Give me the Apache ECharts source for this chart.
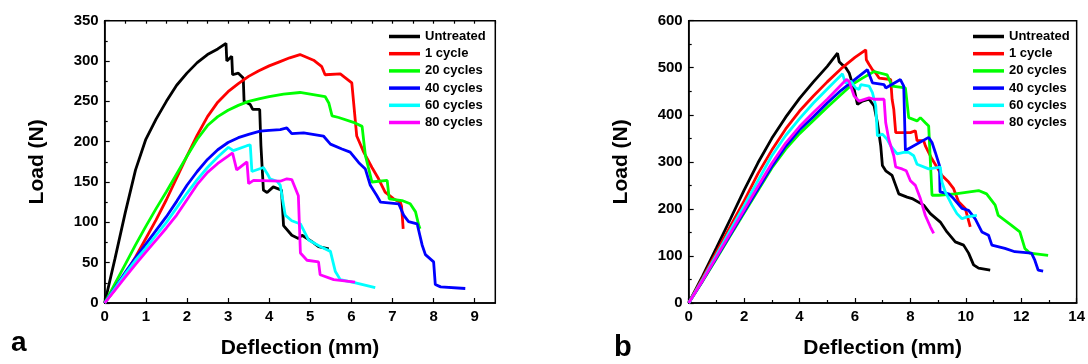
<!DOCTYPE html>
<html>
<head>
<meta charset="utf-8">
<script src="https://cdn.jsdelivr.net/npm/echarts@6/dist/echarts.min.js"></script>
<style>
html,body{margin:0;padding:0;background:#fff;}
#c{width:1088px;height:364px;}
</style>
</head>
<body>
<div id="c"></div>
<script>
// ---------- Data (Deflection mm, Load N) ----------
var seriesNames = ['Untreated', '1 cycle', '20 cycles', '40 cycles', '60 cycles', '80 cycles'];

// Panel a
var aUntreated = [[0,0],[0.25,55],[0.5,112],[0.75,165],[1.0,203],[1.25,228],[1.5,250],[1.75,270],[2.0,285],[2.25,298],[2.5,308],[2.75,315],[2.95,322],[2.97,300],[3.09,306],[3.11,283],[3.25,285],[3.37,279],[3.39,250],[3.54,246],[3.6,240],[3.77,240],[3.8,195],[3.86,140],[3.95,137],[4.1,144],[4.3,140],[4.35,96],[4.55,84],[4.71,80],[4.8,84],[5.04,76],[5.2,70],[5.45,67]];
var aCycle1 = [[0,0],[0.25,17],[0.5,36],[0.75,57],[1.0,80],[1.25,103],[1.5,128],[1.75,155],[2.0,182],[2.25,208],[2.5,231],[2.75,249],[3.0,262],[3.25,272],[3.5,281],[3.75,288],[4.0,294],[4.25,299],[4.5,304],[4.75,308],[5.08,301],[5.28,293],[5.36,283],[5.73,284],[6.01,273],[6.05,271],[6.13,207],[6.3,187],[6.5,168],[6.66,154],[6.82,137.5],[7.03,129],[7.19,125],[7.22,120],[7.26,92]];
var aCycle20 = [[0,0],[0.25,24],[0.5,48],[0.75,72],[1.0,95],[1.25,117],[1.5,138],[1.75,160],[2.0,182],[2.25,203],[2.5,220],[2.75,231],[3.0,239],[3.25,245],[3.5,250],[3.75,253],[4.0,256],[4.35,259],[4.75,261],[5.0,259],[5.36,256],[5.45,248],[5.53,232],[5.69,230],[6.05,224],[6.26,219],[6.34,183],[6.5,150],[6.87,152],[6.92,129],[7.23,127],[7.43,123],[7.56,113],[7.64,96],[7.67,92]];
var aCycle40 = [[0,0],[0.25,19],[0.5,38],[0.75,56],[1.0,73],[1.25,90],[1.5,107],[1.75,126],[2.0,146],[2.25,163],[2.5,178],[2.75,190],[3.0,199],[3.25,205],[3.5,209],[3.78,213],[4.0,214],[4.27,215],[4.43,217],[4.55,210],[4.84,211],[5.32,207],[5.49,197],[5.77,191],[5.97,187],[6.18,174],[6.34,166],[6.46,146],[6.62,133],[6.71,125],[7.15,123],[7.27,109],[7.39,101],[7.6,98],[7.72,72],[7.8,60],[8.0,51],[8.04,23],[8.17,20],[8.77,18]];
var aCycle60 = [[0,0],[0.25,18],[0.5,36],[0.75,53],[1.0,68],[1.25,84],[1.5,100],[1.75,118],[2.0,136],[2.25,153],[2.5,168],[2.75,181],[3.01,193],[3.13,189],[3.46,195],[3.54,196],[3.58,163],[3.86,168],[3.98,158],[4.02,154],[4.19,151],[4.27,146],[4.39,109],[4.55,102],[4.76,98],[4.96,78],[5.24,70],[5.49,64],[5.61,39],[5.73,29],[6.1,25],[6.58,19]];
var aCycle80 = [[0,0],[0.25,16],[0.5,32],[0.75,48],[1.0,63],[1.25,78],[1.5,93],[1.75,109],[2.0,128],[2.25,147],[2.5,162],[2.75,173],[3.0,182],[3.11,186],[3.21,165],[3.46,175],[3.5,148],[3.62,152],[4.27,151],[4.43,154],[4.55,153],[4.71,133],[4.76,62],[4.92,53],[5.2,51],[5.24,35],[5.57,29],[6.09,26]];

// Panel b
var bUntreated = [[0,0],[0.5,57],[1.0,117],[1.5,178],[2.0,240],[2.5,298],[3.0,350],[3.5,395],[4.0,435],[4.5,470],[5.0,503],[5.37,531],[5.43,513],[5.55,506],[5.67,500],[5.79,489],[5.97,454],[6.09,422],[6.27,429],[6.51,433],[6.69,419],[6.81,383],[6.93,334],[6.99,292],[7.11,281],[7.34,271],[7.47,250],[7.58,232],[7.88,225],[8.06,222],[8.48,208],[8.72,190],[9.08,172],[9.32,151],[9.62,130],[9.92,123],[10.1,106],[10.28,81],[10.46,74],[10.88,70]];
var bCycle1 = [[0,0],[0.5,53],[1.0,108],[1.5,163],[2.0,217],[2.5,275],[3.0,325],[3.5,370],[4.0,408],[4.5,440],[5.0,470],[5.5,498],[6.0,522],[6.39,538],[6.41,517],[6.51,507],[6.63,496],[6.75,489],[6.87,478],[7.29,475],[7.34,433],[7.4,412],[7.47,362],[7.52,359],[8.0,362],[8.18,366],[8.24,345],[8.48,345],[8.54,334],[8.78,306],[9.14,271],[9.38,257],[9.56,243],[9.74,215],[9.98,201],[10.16,162]];
var bCycle20 = [[0,0],[0.5,46],[1.0,94],[1.5,143],[2.0,191],[2.5,239],[3.0,287],[3.5,327],[4.0,360],[4.5,388],[5.0,416],[5.5,443],[5.91,465],[6.27,478],[6.69,492],[7.16,485],[7.34,461],[7.82,457],[7.94,394],[8.24,387],[8.36,394],[8.54,383],[8.66,376],[8.78,229],[9.02,229],[9.62,232],[10.46,239],[10.75,232],[11.06,208],[11.17,186],[11.65,165],[11.95,151],[12.13,116],[12.31,106],[12.97,101]];
var bCycle40 = [[0,0],[0.5,47],[1.0,96],[1.5,145],[2.0,194],[2.5,242],[3.0,290],[3.5,333],[4.0,368],[4.5,396],[5.0,425],[5.5,452],[6.15,482],[6.45,496],[6.51,496],[6.63,468],[7.05,464],[7.11,457],[7.64,475],[7.76,461],[7.82,324],[8.66,352],[8.78,341],[8.9,320],[9.05,292],[9.07,236],[9.38,232],[9.56,222],[9.86,201],[10.1,197],[10.34,179],[10.58,151],[10.82,144],[10.94,123],[11.41,116],[11.77,109],[12.37,106],[12.49,91],[12.61,70],[12.79,68]];
var bCycle60 = [[0,0],[0.5,50],[1.0,102],[1.5,155],[2.0,207],[2.5,260],[3.0,313],[3.5,356],[4.0,392],[4.5,425],[5.0,455],[5.55,487],[5.65,468],[5.85,471],[6.03,457],[6.15,454],[6.21,464],[6.51,461],[6.63,447],[6.75,419],[6.81,355],[6.99,359],[7.16,348],[7.29,334],[7.52,317],[7.76,320],[7.94,320],[8.12,313],[8.24,295],[8.66,285],[9.08,289],[9.14,257],[9.26,236],[9.5,208],[9.68,190],[9.86,179],[10.04,183],[10.4,186]];
var bCycle80 = [[0,0],[0.5,48],[1.0,98],[1.5,148],[2.0,198],[2.5,248],[3.0,297],[3.5,340],[4.0,375],[4.5,405],[5.0,433],[5.69,475],[5.79,471],[5.97,440],[6.15,429],[6.51,436],[6.69,433],[7.05,433],[7.11,383],[7.22,348],[7.4,313],[7.47,289],[7.7,285],[7.85,281],[8.0,260],[8.18,250],[8.36,222],[8.54,186],[8.72,162],[8.84,148]];

var colors = ['#000000', '#ff0000', '#00ff00', '#0000ff', '#00ffff', '#ff00ff'];
var panelA = [aUntreated, aCycle1, aCycle20, aCycle40, aCycle60, aCycle80];
var panelB = [bUntreated, bCycle1, bCycle20, bCycle40, bCycle60, bCycle80];

// ---------- Chart ----------
var FONT = 'Liberation Sans, Arial, sans-serif';
var chart = echarts.init(document.getElementById('c'), null, {renderer: 'canvas'});

function tickLabel() {
  return {color: '#000', fontWeight: 'bold', fontSize: 15, fontFamily: FONT, margin: 6};
}
var axisLineStyle = {show: true, lineStyle: {color: '#000', width: 1.5}};
var nameStyle = {color: '#000', fontWeight: 'bold', fontSize: 21, fontFamily: FONT};

var series = [];
panelA.forEach(function (d, i) {
  series.push({name: seriesNames[i], type: 'line', xAxisIndex: 0, yAxisIndex: 0, data: d,
    symbol: 'none', showSymbol: false, smooth: false, animation: false,
    lineStyle: {color: colors[i], width: 2.8}, itemStyle: {color: colors[i]}});
});
panelB.forEach(function (d, i) {
  series.push({name: seriesNames[i], type: 'line', xAxisIndex: 2, yAxisIndex: 1, data: d,
    symbol: 'none', showSymbol: false, smooth: false, animation: false,
    lineStyle: {color: colors[i], width: 2.8}, itemStyle: {color: colors[i]}});
});

function legend(left) {
  return {
    orient: 'vertical', left: left, top: 30, padding: 0, itemWidth: 31, itemHeight: 3.5, itemGap: 4.2,
    icon: 'rect', selectedMode: false,
    textStyle: {color: '#000', fontWeight: 'bold', fontSize: 13, fontFamily: FONT, lineHeight: 13},
    data: seriesNames.map(function (n, i) { return {name: n, itemStyle: {color: colors[i]}}; })
  };
}

var option = {
  backgroundColor: '#fff',
  animation: false,
  legend: [legend(389), legend(973)],
  grid: [
    {left: 104.7, top: 20.7, width: 390.6, height: 284.3, show: true, borderColor: '#000', borderWidth: 1.5, backgroundColor: 'transparent', containLabel: false},
    {left: 688.7, top: 20.7, width: 390, height: 284.3, show: true, borderColor: '#000', borderWidth: 1.5, backgroundColor: 'transparent', containLabel: false}
  ],
  xAxis: [
    {gridIndex: 0, type: 'value', min: 0, max: 9.5, interval: 1,
      axisLine: axisLineStyle, axisTick: {show: true, inside: true, length: 5, lineStyle: {color: '#000', width: 1.2}},
      axisLabel: Object.assign(tickLabel(), {showMaxLabel: false, formatter: function (v) { return Number.isInteger(v) ? String(v) : ''; }}),
      splitLine: {show: false},
      name: 'Deflection (mm)', nameLocation: 'middle', nameGap: 35, nameTextStyle: nameStyle},
    {gridIndex: 0, type: 'value', min: 0, max: 9.5, interval: 0.5,
      axisLine: {show: false}, axisTick: {show: true, inside: true, length: 3, lineStyle: {color: '#000', width: 1.2}},
      axisLabel: {show: false}, splitLine: {show: false}},
    {gridIndex: 1, type: 'value', min: 0, max: 14, interval: 2,
      axisLine: axisLineStyle, axisTick: {show: true, inside: true, length: 5, lineStyle: {color: '#000', width: 1.2}},
      minorTick: {show: true, splitNumber: 2, length: 3, lineStyle: {color: '#000', width: 1.2}},
      axisLabel: Object.assign(tickLabel(), {showMaxLabel: true}),
      splitLine: {show: false},
      name: 'Deflection (mm)', nameLocation: 'middle', nameGap: 35, nameTextStyle: nameStyle}
  ],
  yAxis: [
    {gridIndex: 0, type: 'value', min: 0, max: 350, interval: 50,
      axisLine: axisLineStyle, axisTick: {show: true, inside: true, length: 5, lineStyle: {color: '#000', width: 1.2}},
      minorTick: {show: true, splitNumber: 2, length: 3, lineStyle: {color: '#000', width: 1.2}},
      axisLabel: tickLabel(), splitLine: {show: false},
      name: 'Load (N)', nameLocation: 'middle', nameGap: 57, nameRotate: 90, nameTextStyle: nameStyle},
    {gridIndex: 1, type: 'value', min: 0, max: 600, interval: 100,
      axisLine: axisLineStyle, axisTick: {show: true, inside: true, length: 5, lineStyle: {color: '#000', width: 1.2}},
      minorTick: {show: true, splitNumber: 2, length: 3, lineStyle: {color: '#000', width: 1.2}},
      axisLabel: tickLabel(), splitLine: {show: false},
      name: 'Load (N)', nameLocation: 'middle', nameGap: 57, nameRotate: 90, nameTextStyle: nameStyle}
  ],
  graphic: [
    {type: 'text', left: 11, top: 329, style: {text: 'a', fill: '#000', font: 'bold 28px ' + FONT}},
    {type: 'text', left: 614, top: 333, style: {text: 'b', fill: '#000', font: 'bold 29px ' + FONT}}
  ],
  series: series
};
chart.setOption(option);
</script>
</body>
</html>
